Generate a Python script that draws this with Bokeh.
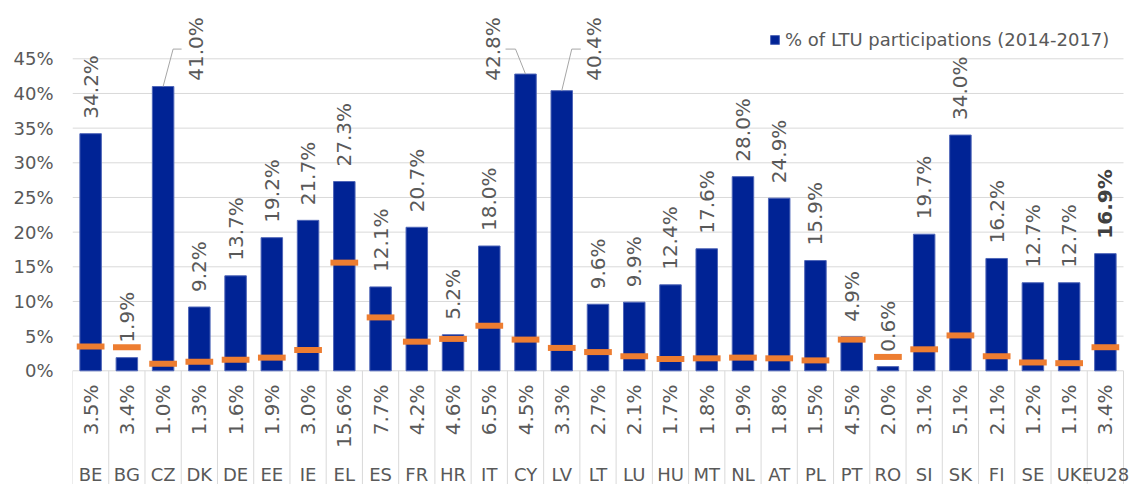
import math
from bokeh.plotting import figure
from bokeh.models import (ColumnDataSource, Range1d, FixedTicker,
                          NumeralTickFormatter, Legend, LegendItem)
from bokeh.core.properties import value
from bokeh.embed import file_html
from bokeh.resources import INLINE

# ---------------- data ----------------
countries = ["BE", "BG", "CZ", "DK", "DE", "EE", "IE", "EL", "ES", "FR", "HR", "IT",
             "CY", "LV", "LT", "LU", "HU", "MT", "NL", "AT", "PL", "PT", "RO", "SI",
             "SK", "FI", "SE", "UK", "EU28"]
ltu_participations = [34.2, 1.9, 41.0, 9.2, 13.7, 19.2, 21.7, 27.3, 12.1, 20.7, 5.2, 18.0,
                      42.8, 40.4, 9.6, 9.9, 12.4, 17.6, 28.0, 24.9, 15.9, 4.9, 0.6, 19.7,
                      34.0, 16.2, 12.7, 12.7, 16.9]
ltu_population = [3.5, 3.4, 1.0, 1.3, 1.6, 1.9, 3.0, 15.6, 7.7, 4.2, 4.6, 6.5,
                  4.5, 3.3, 2.7, 2.1, 1.7, 1.8, 1.9, 1.8, 1.5, 4.5, 2.0, 3.1,
                  5.1, 2.1, 1.2, 1.1, 3.4]
y_ticks = [0, 0.05, 0.10, 0.15, 0.20, 0.25, 0.30, 0.35, 0.40, 0.45]
legend_label = "% of LTU participations (2014-2017)"

# ---------------- styling ----------------
FONT = "DejaVu Sans"
TXT = "#595959"
BLUE = "#002395"
ORANGE = "#ED7D31"
GRID = "#d9d9d9"
W, H = 1129, 484
LEFT = 72
n = len(countries)
PX_X = 1051 / n                       # pixels per category
PX_Y = 312 / 0.45                     # pixels per unit on y
ZERO_PX = 370.3                       # pixel row of 0 %

# labels moved aside with a leader line: (pixel dx of label, leader dx1, leader dx2)
moved = {"CZ": (33, 10, 18.5), "CY": (-32.5, -10, -20), "LV": (32, 10, 19)}
LEADER_Y = 0.464
TABLE_Y = -0.0198
CODE_Y = -0.1495

xc = [i + 0.5 for i in range(n)]      # category centres

p = figure(width=W, height=H,
           x_range=Range1d(0, (W - LEFT) / PX_X),
           y_range=Range1d(-(H - ZERO_PX) / PX_Y, ZERO_PX / PX_Y),
           x_axis_location=None, output_backend="svg", toolbar_location=None,
           min_border_left=LEFT, min_border_right=0, min_border_top=0, min_border_bottom=0)
p.outline_line_color = None
p.background_fill_color = "white"
p.border_fill_color = "white"

# y axis
p.yaxis.ticker = FixedTicker(ticks=y_ticks)
p.yaxis.formatter = NumeralTickFormatter(format="0%")
p.yaxis.axis_line_color = None
p.yaxis.major_tick_line_color = None
p.yaxis.minor_tick_line_color = None
p.yaxis.major_tick_out = 0
p.yaxis.major_tick_in = 0
p.yaxis.major_label_standoff = 19
p.yaxis.major_label_text_font = FONT
p.yaxis.major_label_text_font_size = "18px"
p.yaxis.major_label_text_color = TXT
p.ygrid.grid_line_color = None
p.xgrid.grid_line_color = None

# gridlines (only across the categories)
p.segment(x0=[0] * len(y_ticks), y0=y_ticks, x1=[n] * len(y_ticks), y1=y_ticks,
          line_color=GRID, line_width=1)

# table separators
p.segment(x0=list(range(n + 1)), y0=[0] * (n + 1), x1=list(range(n + 1)),
          y1=[-0.2] * (n + 1), line_color=GRID, line_width=1)

# bars
src = ColumnDataSource(dict(x=xc, v=[a / 100 for a in ltu_participations],
                            o=[b / 100 for b in ltu_population]))
bars = p.vbar(x="x", top="v", width=0.593, source=src, fill_color=BLUE,
              line_color="#4f66b8", line_width=1)

# orange markers
p.rect(x="x", y="o", width=0.765, height=6, height_units="screen", source=src,
       fill_color=ORANGE, line_color=None)

# value labels above bars
lx, ly, lt, lxo, lyo = [], [], [], [], []
bx, by, bt = [], [], []
for i, (c, v) in enumerate(zip(countries, ltu_participations)):
    if c == "EU28":
        bx.append(xc[i]); by.append(v / 100); bt.append(f"{v:.1f}%")
        continue
    lx.append(xc[i]); lt.append(f"{v:.1f}%")
    if c in moved:
        ly.append(0.45); lxo.append(moved[c][0]); lyo.append(22)
    else:
        ly.append(v / 100); lxo.append(0); lyo.append(-15)
p.text(x="x", y="y", text="t", x_offset="xo", y_offset="yo",
       source=ColumnDataSource(dict(x=lx, y=ly, t=lt, xo=lxo, yo=lyo)),
       angle=math.pi / 2, text_align="left", text_baseline="middle",
       text_font=value(FONT), text_font_size="20px", text_color=TXT)
p.text(x="x", y="y", text="t", y_offset=-15,
       source=ColumnDataSource(dict(x=bx, y=by, t=bt)),
       angle=math.pi / 2, text_align="left", text_baseline="middle",
       text_font=value(FONT), text_font_size="20px", text_font_style="bold",
       text_color="#404040")

# leader lines
xs, ys = [], []
for c, (dx, d1, d2) in moved.items():
    i = countries.index(c)
    v = ltu_participations[i] / 100
    cx = xc[i]
    xs.append([cx, cx + d1 / PX_X, cx + d2 / PX_X])
    ys.append([v, LEADER_Y, LEADER_Y])
p.multi_line(xs=xs, ys=ys, line_color="#a6a6a6", line_width=1)

# data table values
p.text(x=xc, y=[TABLE_Y] * n, text=[f"{b:.1f}%" for b in ltu_population],
       angle=math.pi / 2, text_align="right", text_baseline="middle",
       text_font=value(FONT), text_font_size="20px", text_color=TXT)

# country codes
p.text(x=xc, y=[CODE_Y] * n, text=countries,
       text_align="center", text_baseline="middle",
       text_font=value(FONT), text_font_size="18px", text_color=TXT)

# legend
legend = Legend(items=[LegendItem(label=legend_label, renderers=[bars])],
                location=(697, 434), orientation="horizontal",
                glyph_width=11, glyph_height=11, label_standoff=5,
                padding=0, margin=0, border_line_color=None,
                background_fill_alpha=0, label_height=22,
                label_text_font=FONT, label_text_font_size="18px",
                label_text_color=TXT)
p.add_layout(legend)

open("out.html", "w").write(file_html(p, INLINE))
